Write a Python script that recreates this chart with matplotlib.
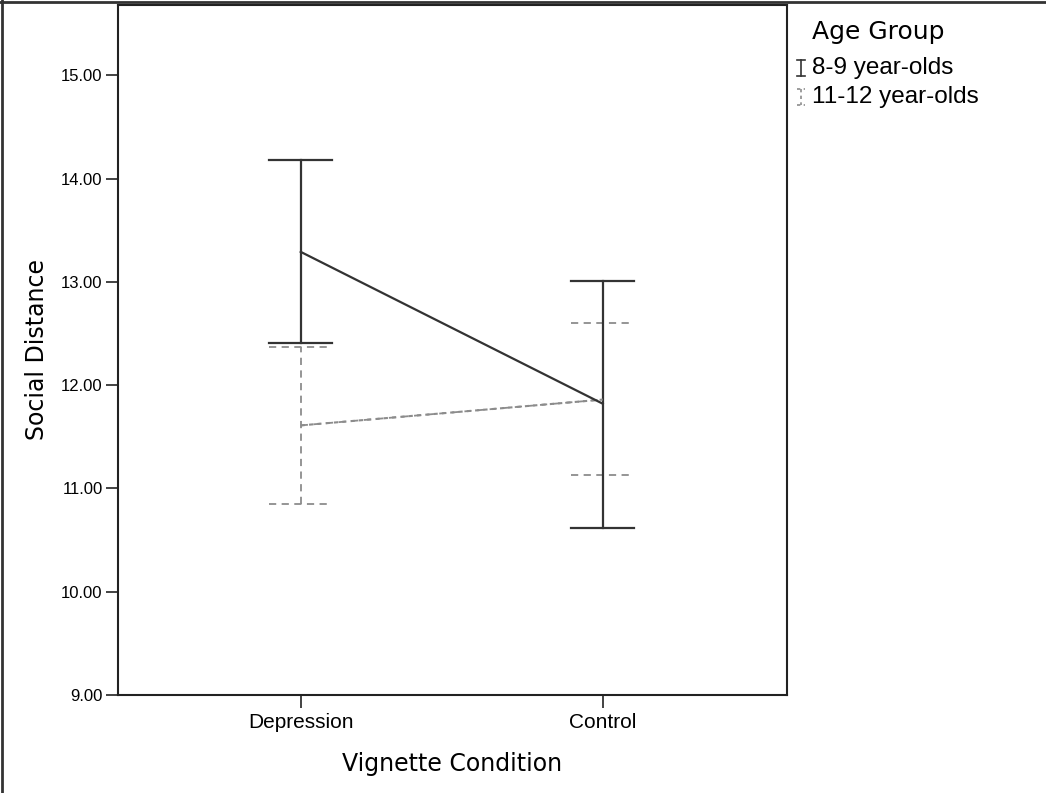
import numpy as np
import matplotlib.pyplot as plt
from matplotlib.lines import Line2D

conditions = ['Depression', 'Control']
groups = ['8-9 year-olds', '11-12 year-olds']

# means and 95% CI bounds
young_mean = [13.29, 11.82]
young_low = [12.41, 10.62]
young_high = [14.18, 13.01]

old_mean = [11.61, 11.86]
old_low = [10.85, 11.13]
old_high = [12.37, 12.60]

plt.rcParams['font.family'] = ['Liberation Sans', 'DejaVu Sans']

W, H = 1046, 793
fig = plt.figure(figsize=(W / 100, H / 100), dpi=100)
ax = fig.add_axes([118 / W, 98 / H, 669 / W, 690 / H])

x = np.arange(len(conditions))
cap = 0.105

def draw_group(mean, low, high, color, ls, lw):
    ax.plot(x, mean, color=color, linestyle=ls, linewidth=lw, zorder=3)
    for xi, lo, hi in zip(x, low, high):
        ax.plot([xi, xi], [lo, hi], color=color, linestyle=ls, linewidth=lw, zorder=2)
        ax.plot([xi - cap, xi + cap], [lo, lo], color=color, linestyle=ls, linewidth=lw, zorder=2)
        ax.plot([xi - cap, xi + cap], [hi, hi], color=color, linestyle=ls, linewidth=lw, zorder=2)

draw_group(old_mean, old_low, old_high, '#8c8c8c', (0, (4, 3)), 1.3)
ax.plot(x, old_mean, color='#8c8c8c', linestyle=(0, (2, 2)), linewidth=1.5, zorder=3)
draw_group(young_mean, young_low, young_high, '#333333', '-', 1.6)

ax.set_xlim(-0.605, 1.61)
ax.set_ylim(9, 15.68)
ax.set_xticks(x)
ax.set_xticklabels(conditions, fontsize=15)
ax.set_yticks(np.arange(9, 16, 1))
ax.set_yticklabels(['%.2f' % v for v in np.arange(9, 16, 1)], fontsize=12)
ax.tick_params(axis='both', direction='out', length=9, width=1.2, color='#222222', pad=2)
ax.tick_params(axis='x', pad=4)
for s in ax.spines.values():
    s.set_linewidth(1.5)
    s.set_color('#222222')

ax.set_xlabel('Vignette Condition', fontsize=17, family=['DejaVu Sans'], labelpad=14)
ax.set_ylabel('Social Distance', fontsize=17, family=['DejaVu Sans'], labelpad=9)

# legend, placed by hand in pixel coordinates
def px(xp, yp):
    return xp / W, 1 - yp / H

fig.text(*px(812, 32), 'Age Group', fontsize=18, family=['DejaVu Sans'], va='center', ha='left')
fig.text(*px(812, 68), groups[0], fontsize=17.5, va='center', ha='left')
fig.text(*px(812, 97), groups[1], fontsize=17.5, va='center', ha='left')

def glyph(xc, yc, color, ls):
    h, c = 8, 4
    segs = [([xc, xc], [yc - h, yc + h]),
            ([xc - c, xc + c], [yc - h, yc - h]),
            ([xc - c, xc + c], [yc + h, yc + h])]
    for xs, ys in segs:
        fig.add_artist(Line2D([v / W for v in xs], [1 - v / H for v in ys], color=color,
                              linestyle=ls, linewidth=1.2, transform=fig.transFigure))

glyph(801, 68, '#333333', '-')
glyph(801, 97, '#8c8c8c', (0, (2, 2)))

# outer frame of the picture
fig.add_artist(Line2D([0, 1], [0.998, 0.998], color='#333333', linewidth=2, transform=fig.transFigure))
fig.add_artist(Line2D([0.002, 0.002], [0, 1], color='#333333', linewidth=2, transform=fig.transFigure))

fig.savefig('out.png', dpi=100)
